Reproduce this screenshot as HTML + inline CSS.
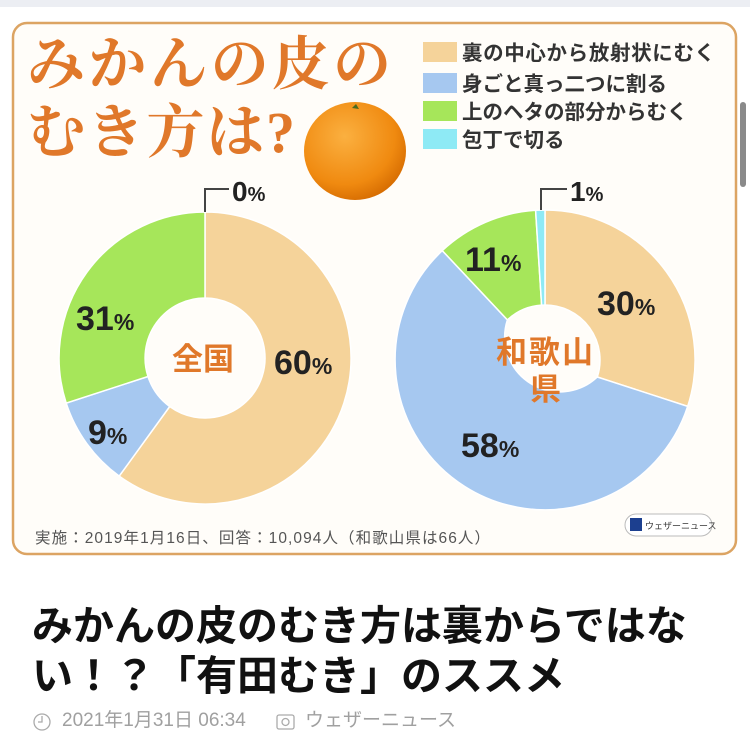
<!DOCTYPE html>
<html><head><meta charset="utf-8"><style>
body{margin:0;width:750px;height:744px;background:#fff;overflow:hidden;position:relative;font-family:"Liberation Sans","Noto Sans CJK JP",sans-serif}
.top{position:absolute;left:0;top:0;width:750px;height:7px;background:#eceef3}
svg{position:absolute;left:0;top:0}
.h{position:absolute;left:32px;font-size:41px;font-weight:bold;color:#111;white-space:nowrap;line-height:1}
.meta{position:absolute;top:711px;font-size:19px;color:#a0a0a0;white-space:nowrap;line-height:1}
.sb{position:absolute;left:740px;top:102px;width:6px;height:85px;border-radius:3px;background:#8a8a8a}
</style></head><body>
<div class="top"></div>
<svg width="750" height="744" viewBox="0 0 750 744">
<defs><radialGradient id="og" cx="0.4" cy="0.35" r="0.7"><stop offset="0" stop-color="#fbb040"/><stop offset="0.7" stop-color="#f08a10"/><stop offset="1" stop-color="#d46a00"/></radialGradient></defs>
<rect x="13" y="23" width="723" height="531" rx="14" fill="#fffdf9" stroke="#dca463" stroke-width="2.5"/>
<g font-family="'Liberation Serif','Noto Serif CJK SC',serif" font-weight="bold" fill="#e0782a" font-size="58">
<text x="27" y="84" textLength="364">みかんの皮の</text>
<text x="27" y="152" textLength="268">むき方は?</text>
</g>
<ellipse cx="355" cy="151" rx="51" ry="49" fill="url(#og)"/>
<path d="M352 108 l4 -4 l3 5 z" fill="#4a6b20"/>
<g font-size="20.5" font-weight="bold" fill="#333">
<rect x="423" y="42" width="34" height="20" fill="#f5d39a"/><text x="462" y="60" textLength="253">裏の中心から放射状にむく</text>
<rect x="423" y="73" width="34" height="20" fill="#a6c8f0"/><text x="462" y="91">身ごと真っ二つに割る</text>
<rect x="423" y="101" width="34" height="20" fill="#a6e65a"/><text x="462" y="119">上のヘタの部分からむく</text>
<rect x="423" y="129" width="34" height="20" fill="#8eeaf5"/><text x="462" y="147">包丁で切る</text>
</g>
<g stroke="#fff" stroke-width="1.5">
<path d="M205 212 A146 146 0 1 1 119.2 476.1 L169.7 406.5 A60 60 0 1 0 205 298 Z" fill="#f5d39a"/>
<path d="M119.2 476.1 A146 146 0 0 1 66.2 403.1 L148 376.5 A60 60 0 0 0 169.7 406.5 Z" fill="#a6c8f0"/>
<path d="M66.2 403.1 A146 146 0 0 1 205 212 L205 298 A60 60 0 0 0 148 376.5 Z" fill="#a6e65a"/>
</g>
<g stroke="#fff" stroke-width="1.5">
<path d="M545 210 A150 150 0 0 1 687.7 406.4 L597.3 377 A55 55 0 0 0 545 305 Z" fill="#f5d39a"/>
<path d="M687.7 406.4 A150 150 0 1 1 442.3 250.6 L507.4 319.9 A55 55 0 0 0 597.3 377 Z" fill="#a6c8f0"/>
<path d="M442.3 250.6 A150 150 0 0 1 535.6 210.3 L541.6 305.1 A55 55 0 0 0 507.4 319.9 Z" fill="#a6e65a"/>
<path d="M535.6 210.3 A150 150 0 0 1 545 210 L545 305 A55 55 0 0 0 541.6 305.1 Z" fill="#8eeaf5"/>
</g>
<g stroke="#444" stroke-width="2" fill="none">
<path d="M205 212 V189 H229"/><path d="M541 210 V189 H567"/>
</g>
<g font-weight="bold" fill="#222" font-size="34">
<text x="232" y="201" font-size="28">0<tspan font-size="20">%</tspan></text>
<text x="570" y="201" font-size="28">1<tspan font-size="20">%</tspan></text>
<text x="76" y="330">31<tspan font-size="23">%</tspan></text>
<text x="274" y="374">60<tspan font-size="23">%</tspan></text>
<text x="88" y="444">9<tspan font-size="23">%</tspan></text>
<text x="465" y="271">11<tspan font-size="23">%</tspan></text>
<text x="597" y="315">30<tspan font-size="23">%</tspan></text>
<text x="461" y="457">58<tspan font-size="23">%</tspan></text>
</g>
<g font-weight="bold" fill="#e0782a" font-size="31">
<text x="172" y="370">全国</text>
<text x="496" y="363" textLength="97">和歌山</text>
<text x="530" y="400">県</text>
</g>
<text x="35" y="543" font-size="15.5" fill="#555" textLength="455">実施：2019年1月16日、回答：10,094人（和歌山県は66人）</text>
<rect x="625" y="514" width="87" height="22" rx="11" fill="#fff" stroke="#bbb"/>
<rect x="630" y="518" width="12" height="13" fill="#1c3f8f"/>
<text x="645" y="529" font-size="9" fill="#333">ウェザーニュース</text>
<circle cx="42" cy="722" r="8" fill="none" stroke="#aaa" stroke-width="1.3"/>
<path d="M42 716 V722 H38" stroke="#aaa" stroke-width="1.3" fill="none"/>
<rect x="277" y="715" width="17" height="14" rx="2" fill="none" stroke="#aaa" stroke-width="1.3"/>
<circle cx="285.5" cy="722" r="3.5" fill="none" stroke="#aaa" stroke-width="1.3"/>
</svg>
<div class="h" style="top:606px">みかんの皮のむき方は裏からではな</div>
<div class="h" style="top:656px">い！？「有田むき」のススメ</div>
<div class="meta" style="left:62px">2021年1月31日 06:34</div>
<div class="meta" style="left:305px">ウェザーニュース</div>
<div class="sb"></div>
</body></html>
